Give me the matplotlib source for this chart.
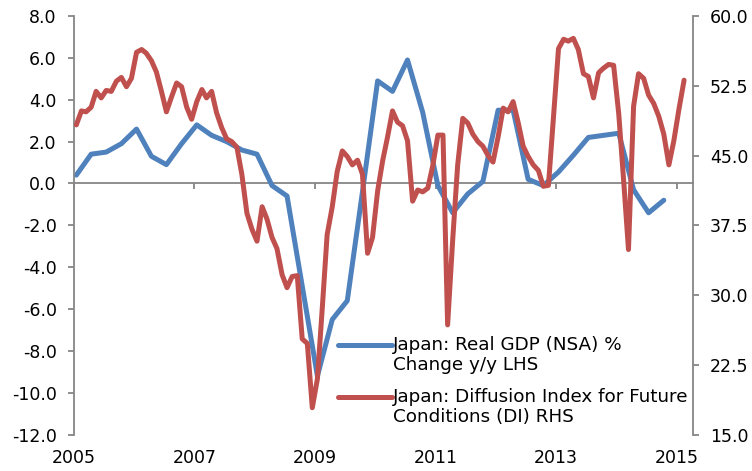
import numpy as np
import pandas as pd
import matplotlib
matplotlib.use("Agg")
import matplotlib.pyplot as plt
import matplotlib.dates as mdates
from matplotlib.legend_handler import HandlerLine2D
from matplotlib.ticker import FormatStrFormatter

# Japan real GDP (NSA), % change y/y, quarterly 2005Q1-2014Q4 (LHS)
gdp_yoy = [
    0.4, 1.4, 1.5, 1.9,
    2.6, 1.3, 0.9, 1.9,
    2.8, 2.3, 2.0, 1.6,
    1.4, -0.1, -0.6, -4.9,
    -9.2, -6.5, -5.6, -0.4,
    4.9, 4.4, 5.9, 3.4,
    -0.1, -1.4, -0.5, 0.1,
    3.5, 3.5, 0.2, -0.1,
    0.55, 1.35, 2.2, 2.3,
    2.4, -0.3, -1.4, -0.8,
]

# Diffusion index for future conditions, monthly Jan 2005 - Feb 2015 (RHS)
di_future = [
    48.3, 49.8, 49.7, 50.2, 51.9, 51.2, 52.0, 51.9, 53.0, 53.4, 52.4, 53.3,
    56.1, 56.4, 56.0, 55.2, 54.0, 51.9, 49.7, 51.3, 52.8, 52.4, 50.2, 48.9,
    50.8, 52.1, 51.2, 51.9, 49.6, 48.0, 46.8, 46.5, 45.9, 43.0, 38.8, 37.1,
    35.8, 39.5, 38.2, 36.2, 35.0, 32.2, 30.8, 32.0, 32.1, 25.3, 24.8, 17.9,
    21.0, 29.0, 36.5, 39.5, 43.3, 45.5, 44.9, 44.0, 44.5, 43.0, 34.5, 36.2,
    41.2, 44.5, 46.9, 49.8, 48.6, 48.2, 46.6, 40.1, 41.3, 41.1, 41.5, 43.9,
    47.2, 47.2, 26.8, 36.0, 44.0, 49.0, 48.5, 47.3, 46.5, 46.0, 45.0, 44.3,
    47.0, 50.1, 49.7, 50.8, 48.6, 46.0, 44.9, 44.0, 43.4, 41.7, 41.8, 49.0,
    56.5, 57.5, 57.3, 57.6, 56.4, 53.8, 53.5, 51.2, 53.9, 54.4, 54.8, 54.7,
    49.5, 42.0, 34.9, 50.3, 53.8, 53.3, 51.5, 50.6, 49.2, 47.3, 44.0, 46.6,
    50.0, 53.1,
]

gdp_label = "Japan: Real GDP (NSA) %\nChange y/y LHS"
di_label = "Japan: Diffusion Index for Future\nConditions (DI) RHS"
tick_years = [2005, 2007, 2009, 2011, 2013, 2015]

BLUE = "#4F81BD"
RED = "#C0504D"
GREY = "#868686"

half_month = pd.Timedelta(days=14)
gdp_dates = pd.period_range("2005Q1", periods=len(gdp_yoy), freq="Q").to_timestamp(how="start") + half_month
di_dates = pd.period_range("2005-01", periods=len(di_future), freq="M").to_timestamp(how="start") + half_month
year_dates = [pd.Timestamp(f"{y}-01-01") for y in tick_years]

plt.rcParams["font.family"] = ["DejaVu Sans"]


class RaisedLine(HandlerLine2D):
    """Put the legend sample next to the first text line, like Excel does."""

    def create_artists(self, legend, orig_handle, xdescent, ydescent,
                       width, height, fontsize, trans):
        artists = super().create_artists(legend, orig_handle, xdescent, ydescent,
                                         width, height, fontsize, trans)
        for a in artists:
            a.set_ydata(np.asarray(a.get_ydata(), dtype=float) + 0.55 * fontsize)
        return artists


fig = plt.figure(figsize=(7.52, 4.71), dpi=100)
ax = fig.add_axes([0.0984, 0.0771, 0.8227, 0.8889])
ax2 = ax.twinx()

l1, = ax.plot(gdp_dates, gdp_yoy, color=BLUE, lw=3.6,
              solid_joinstyle="round", solid_capstyle="round", label=gdp_label)
l2, = ax2.plot(di_dates, di_future, color=RED, lw=3.6,
               solid_joinstyle="round", solid_capstyle="round", label=di_label)

ax.set_xlim(pd.Timestamp("2005-01-01"), pd.Timestamp("2015-04-08"))
ax.set_ylim(-12, 8)
ax.set_yticks(np.arange(-12, 8.1, 2))
ax.yaxis.set_major_formatter(FormatStrFormatter("%.1f"))
ax2.set_ylim(15, 60)
ax2.set_yticks(np.arange(15, 60.1, 7.5))
ax2.yaxis.set_major_formatter(FormatStrFormatter("%.1f"))

# year labels sit at the bottom, tick marks sit on the zero line
ax.set_xticks(year_dates)
ax.xaxis.set_major_formatter(mdates.DateFormatter("%Y"))
ax.tick_params(axis="x", length=0, pad=10, labelsize=12.5, colors="black")
zero_axis = ax.secondary_xaxis(0.6)
zero_axis.set_alignment("bottom")
zero_axis.set_xticks(year_dates)
zero_axis.tick_params(axis="x", direction="out", length=4.5, width=1.3,
                      color=GREY, labelbottom=False)
zero_axis.spines["bottom"].set_color(GREY)
zero_axis.spines["bottom"].set_linewidth(1.3)

for a in (ax, ax2):
    for s in a.spines.values():
        s.set_visible(False)
ax.spines["left"].set_visible(True)
ax.spines["left"].set_color(GREY)
ax.spines["left"].set_linewidth(1.3)
ax2.spines["right"].set_visible(True)
ax2.spines["right"].set_color(GREY)
ax2.spines["right"].set_linewidth(1.3)

ax.tick_params(axis="y", direction="out", length=4.5, width=1.3, color=GREY,
               pad=8, labelsize=12.5)
ax2.tick_params(axis="y", direction="out", length=4.5, width=1.3, color=GREY,
                pad=8, labelsize=12.5)

leg = ax2.legend(handles=[l1, l2], loc="upper left", bbox_to_anchor=(0.4267, 0.236),
                 frameon=False, fontsize=13.2, handlelength=2.95, handletextpad=0.05,
                 borderpad=0, borderaxespad=0, labelspacing=0.75,
                 handler_map={matplotlib.lines.Line2D: RaisedLine()})
for t in leg.get_texts():
    t.set_linespacing(1.15)

fig.savefig("out.png", dpi=100)
